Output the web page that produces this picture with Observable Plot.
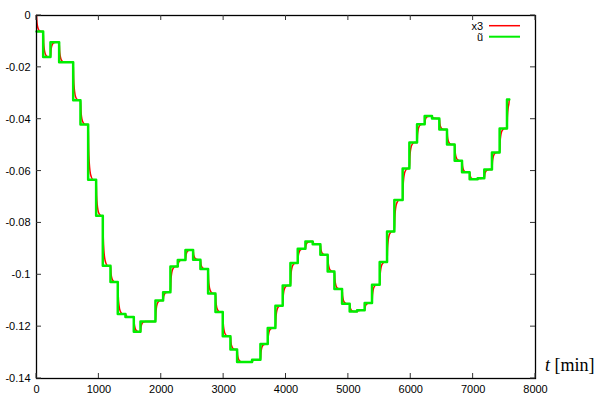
<!DOCTYPE html>
<html>
<head>
<meta charset="utf-8">
<script src="https://cdn.jsdelivr.net/npm/d3@7"></script>
<script src="https://cdn.jsdelivr.net/npm/@observablehq/plot@0.6"></script>
<style>
  html, body { margin: 0; padding: 0; background: #fff; overflow: hidden; }
  #chart { width: 607px; height: 407px; }
</style>
</head>
<body>
<div id="chart"></div>
<script>
// Step transition times (min) and the level of ũ from each time on
const stepTimes = [0, 107, 224, 363, 588, 705, 828, 956, 1063, 1186, 1303, 1426, 1560, 1667, 1907, 2030, 2147, 2265, 2388, 2511, 2628, 2751, 2869, 2986, 3109, 3216, 3456, 3590, 3707, 3830, 3947, 4071, 4188, 4311, 4428, 4551, 4668, 4776, 4899, 5021, 5139, 5261, 5379, 5502, 5620, 5737, 5870, 5978, 6101, 6223, 6341, 6458, 6581, 6704, 6822, 6944, 7072, 7179, 7302, 7425, 7543];
const uLevels = [-0.0062, -0.0160, -0.0103, -0.0180, -0.0327, -0.0420, -0.0633, -0.0772, -0.0965, -0.1028, -0.1151, -0.1163, -0.1220, -0.1180, -0.1099, -0.1067, -0.0968, -0.0943, -0.0904, -0.0942, -0.0978, -0.1072, -0.1144, -0.1237, -0.1288, -0.1336, -0.1328, -0.1267, -0.1205, -0.1119, -0.1041, -0.0955, -0.0900, -0.0872, -0.0882, -0.0923, -0.0987, -0.1055, -0.1112, -0.1142, -0.1137, -0.1109, -0.1038, -0.0951, -0.0833, -0.0712, -0.0590, -0.0490, -0.0419, -0.0388, -0.0397, -0.0440, -0.0498, -0.0560, -0.0605, -0.0632, -0.0628, -0.0594, -0.0528, -0.0436, -0.0324];
const endTime = 7580;
const x3Start = 0;
// lag of x3 behind each step: [minutes after step, fraction of step reached]
const x3Lag = [[0, 0], [8, 0.45], [18, 0.7], [30, 0.85], [50, 0.95], [80, 1]];

const xTicks = [0, 1000, 2000, 3000, 4000, 5000, 6000, 7000, 8000];
const yTicks = [0, -0.02, -0.04, -0.06, -0.08, -0.1, -0.12, -0.14];
const legendLabels = ["x3", "ũ"];
const colors = {x3: "#ff0000", u: "#00ee00"};

// build tables
const uData = stepTimes.map((t, i) => ({t, v: uLevels[i]}));
uData.push({t: endTime, v: uLevels[uLevels.length - 1]});

const x3Data = [];
let prev = x3Start;
stepTimes.forEach((t, i) => {
  const next = uLevels[i];
  const limit = i + 1 < stepTimes.length ? stepTimes[i + 1] : endTime;
  for (const [dt, f] of x3Lag) {
    if (t + dt <= limit) x3Data.push({t: t + dt, v: prev + f * (next - prev)});
  }
  prev = next;
});
x3Data.push({t: endTime, v: prev});

function decorations(index, scales, values, dims) {
  const g = d3.create("svg:g").attr("text-anchor", "start");
  const left = dims.marginLeft, right = dims.width - dims.marginRight;
  const top = dims.marginTop, bottom = dims.height - dims.marginBottom;
  const tl = 5;
  const tk = g.append("g").attr("stroke", "#333").attr("stroke-width", 1);
  for (const v of xTicks) {
    const x = scales.x(v);
    tk.append("line").attr("x1", x).attr("x2", x).attr("y1", bottom).attr("y2", bottom - tl);
    tk.append("line").attr("x1", x).attr("x2", x).attr("y1", top).attr("y2", top + tl);
  }
  for (const v of yTicks) {
    const y = scales.y(v);
    tk.append("line").attr("y1", y).attr("y2", y).attr("x1", left).attr("x2", left + tl);
    tk.append("line").attr("y1", y).attr("y2", y).attr("x1", right).attr("x2", right - tl);
  }
  // legend
  const cols = [colors.x3, colors.u];
  legendLabels.forEach((lab, i) => {
    const y = top + 10.7 + i * 11;
    g.append("text").attr("x", right - 52).attr("y", y).attr("dy", "0.35em")
      .attr("text-anchor", "end").attr("font-size", 11).attr("fill", "#000").text(lab);
    g.append("line").attr("x1", right - 46).attr("x2", right - 15).attr("y1", y).attr("y2", y)
      .attr("stroke", cols[i]).attr("stroke-width", i === 0 ? 1.5 : 2);
  });
  // axis label
  const lt = g.append("text").attr("x", right + 10).attr("y", bottom - 7)
    .attr("text-anchor", "start")
    .attr("font-family", "'Liberation Serif', 'DejaVu Serif', serif").attr("font-size", 18).attr("fill", "#000");
  lt.append("tspan").attr("font-style", "italic").text("t");
  lt.append("tspan").text(" [min]");
  return g.node();
}

const chart = Plot.plot({
  width: 607,
  height: 407,
  marginLeft: 36,
  marginRight: 72,
  marginTop: 15,
  marginBottom: 29,
  style: {background: "#fff", fontFamily: "'Liberation Sans', Arial, sans-serif", fontSize: "11px", color: "#000"},
  x: {domain: [0, 8000], ticks: xTicks, tickSize: 0, tickPadding: 7, tickFormat: d => String(d), label: null},
  y: {domain: [-0.14, 0], ticks: yTicks, tickSize: 0, tickPadding: 6, tickFormat: d => String(d), label: null},
  marks: [
    Plot.line(x3Data, {x: "t", y: "v", stroke: colors.x3, strokeWidth: 1.5, curve: "monotone-x"}),
    Plot.line(uData, {x: "t", y: "v", stroke: colors.u, strokeWidth: 2.5, curve: "step-after"}),
    Plot.frame({stroke: "#000", strokeWidth: 1.3}),
    decorations
  ]
});
document.getElementById("chart").appendChild(chart);
</script>
</body>
</html>
